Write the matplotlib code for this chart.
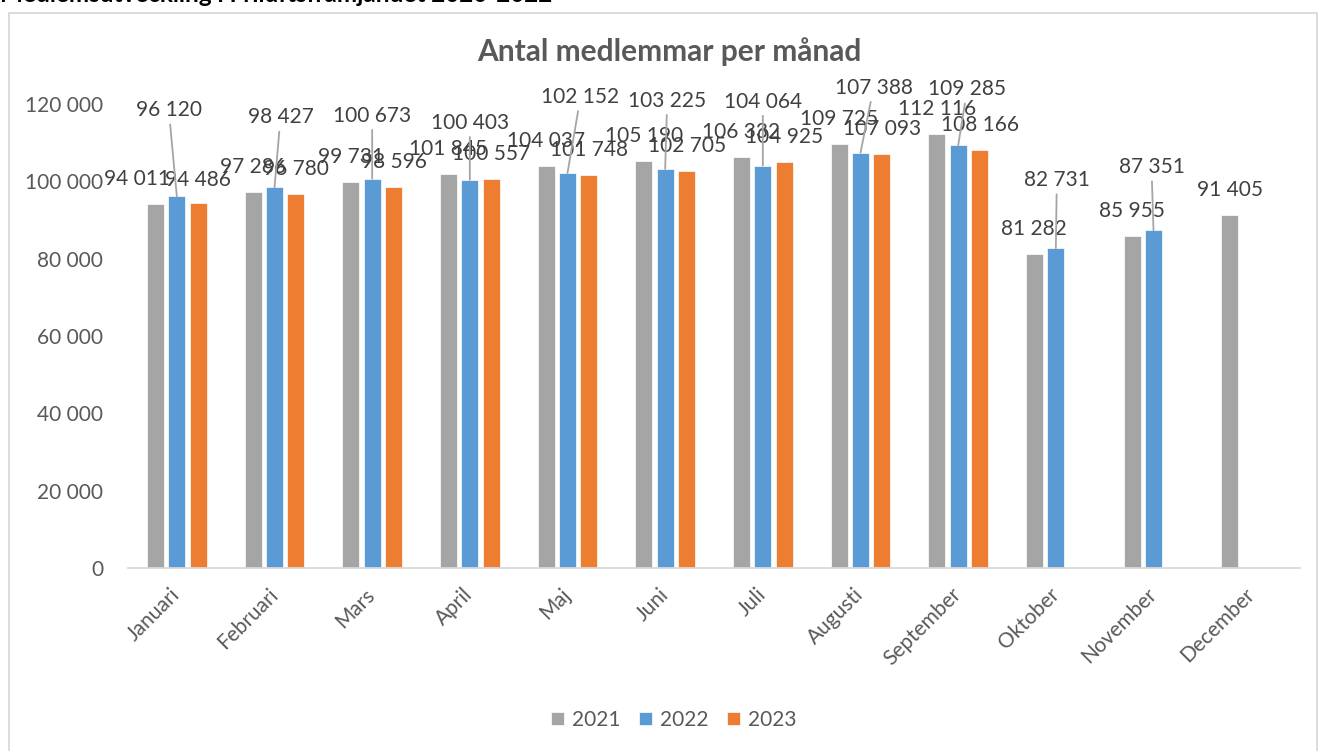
import numpy as np
import matplotlib
matplotlib.use("Agg")
import matplotlib.pyplot as plt
from matplotlib.patches import Rectangle
from matplotlib.transforms import ScaledTranslation

plt.rcParams['font.family'] = ['Lato', 'DejaVu Sans']

months = ["Januari", "Februari", "Mars", "April", "Maj", "Juni", "Juli",
          "Augusti", "September", "Oktober", "November", "December"]
series_names = ["2021", "2022", "2023"]
v2021 = [94011, 97286, 99731, 101845, 104037, 105190, 106332, 109725, 112116, 81282, 85955, 91405]
v2022 = [96120, 98427, 100673, 100403, 102152, 103225, 104064, 107388, 109285, 82731, 87351, np.nan]
v2023 = [94486, 96780, 98596, 100557, 101748, 102705, 104925, 107093, 108166, np.nan, np.nan, np.nan]
yticks = [0, 20000, 40000, 60000, 80000, 100000, 120000]

colors = ["#a5a5a5", "#5b9bd5", "#ed7d31"]
TXT = "#595959"
LBL = "#404040"

# label placement offsets in pixels (dx, dy above bar top)
off2021 = [(-18, 25)] + [(0, 25)] * 11
off2023 = [(0, 23)] + [(0, 25)] * 11
off2022 = [(-8, 86), (6, 70), (0, 63), (0, 57), (13, 76), (2, 68), (0, 64),
           (13, 65), (9, 56), (1, 68), (-2, 63), (0, 60)]

W, H = 1319, 751
fig = plt.figure(figsize=(W / 100, H / 100), dpi=100)
ax = fig.add_axes([128 / W, 1 - 568 / H, (1300 - 128) / W, (568 - 104) / H])

x = np.arange(len(months))
bw = 0.174
step = 0.22
all_vals = [v2021, v2022, v2023]
for k, (vals, c, name) in enumerate(zip(all_vals, colors, series_names)):
    ax.bar(x + (k - 1) * step, vals, width=bw, color=c, label=name,
           edgecolor="white", linewidth=0.5, zorder=2)

px = 0.72  # px -> pt
FS = 15
def fmt(v):
    return f"{int(v):,}".replace(",", " ")

for k, (vals, offs) in enumerate([(v2021, off2021), (v2022, off2022), (v2023, off2023)]):
    for i, v in enumerate(vals):
        if np.isnan(v):
            continue
        dx, dy = offs[i]
        xi = x[i] + (k - 1) * step
        if k == 1:
            ax.annotate(fmt(v), xy=(xi, v), xytext=(dx * px, dy * px),
                        textcoords="offset points", ha="center", va="center",
                        fontsize=FS, color=LBL, zorder=4,
                        arrowprops=dict(arrowstyle="-", color="#a5a5a5", lw=1.3,
                                        shrinkA=1, shrinkB=0))
        else:
            ax.annotate(fmt(v), xy=(xi, v), xytext=(dx * px, dy * px),
                        textcoords="offset points", ha="center", va="center",
                        fontsize=FS, color=LBL, zorder=3)

ax.set_xlim(-0.5, len(months) - 0.5)
ax.set_ylim(0, 120000)
ax.set_yticks(yticks)
ax.set_yticklabels([fmt(t) for t in yticks], fontsize=FS, color=TXT)
ax.set_xticks(x)
ax.set_xticklabels(months, rotation=45, ha="right", va="center", rotation_mode="anchor",
                   fontsize=FS, color=TXT)
shift = ScaledTranslation(10 / 72, 0, fig.dpi_scale_trans)
for lab in ax.get_xticklabels():
    lab.set_transform(lab.get_transform() + shift)
ax.tick_params(axis="y", length=0, pad=18)
ax.tick_params(axis="x", length=0, pad=17)
for s in ["top", "right", "left"]:
    ax.spines[s].set_visible(False)
ax.spines["bottom"].set_color("#d9d9d9")
ax.spines["bottom"].set_linewidth(1.3)
ax.set_facecolor("none")

fig.text(669 / W, 1 - 52 / H, "Antal medlemmar per månad", ha="center", va="center",
         fontsize=21.5, fontweight="bold", color=TXT)

fig.text(0, 1 - 2 / H, "Medlemsutveckling i Friluftsfrämjandet 2020-2022",
         ha="left", va="baseline", fontsize=17.5, fontweight="bold", color="black")

fig.patches.append(Rectangle((9 / W, -0.01), (1317 - 9) / W, 1 - 13 / H + 0.01,
                             transform=fig.transFigure, fill=False,
                             edgecolor="#d9d9d9", linewidth=1.3))

fig.legend(loc="center", bbox_to_anchor=(674 / W, 1 - 720 / H), ncol=3, frameon=False,
           fontsize=FS, handlelength=0.6, handleheight=0.6, handletextpad=0.4,
           columnspacing=0.9, labelcolor=TXT)

fig.savefig("out.png", dpi=100)
